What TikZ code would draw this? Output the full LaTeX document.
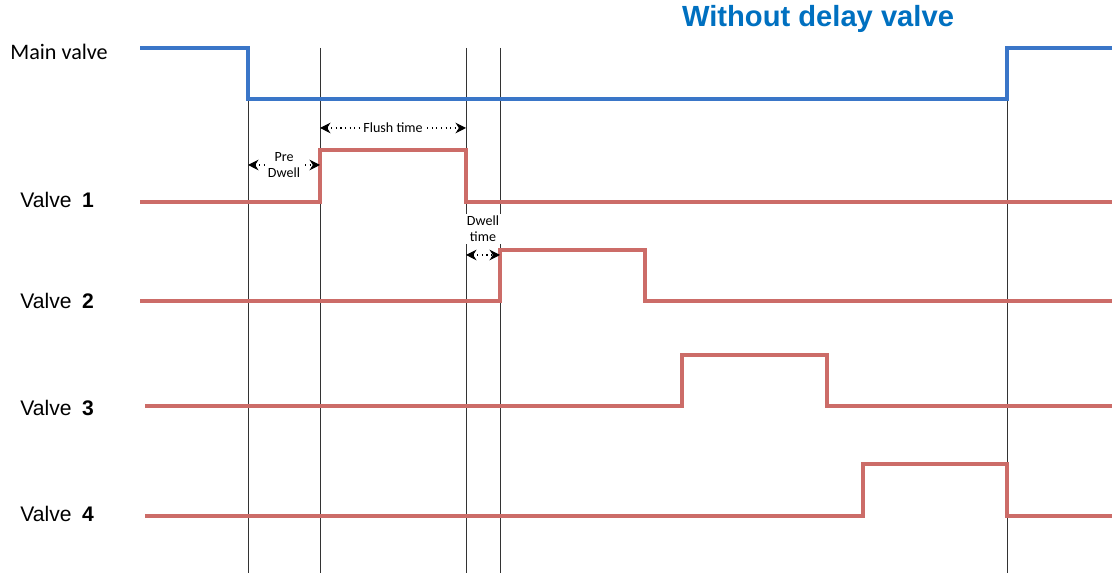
\documentclass[tikz,border=0pt]{standalone}
\usepackage{fontspec}
\setmainfont{Liberation Sans}
\newfontfamily\calfont{Carlito}
\usetikzlibrary{arrows.meta}
\definecolor{mainblue}{RGB}{58,118,200}
\definecolor{titleblue}{RGB}{0,112,192}
\definecolor{valvered}{RGB}{204,108,104}
\tikzset{
  mainline/.style={draw=mainblue, line width=1.8pt},
  valveline/.style={draw=valvered, line width=2.1pt},
  marker/.style={draw=black!80, line width=.35pt},
  span/.style={dotted, line width=.6pt, {Stealth[length=6pt,width=6pt]}-{Stealth[length=6pt,width=6pt]}},
  spantext/.style={font=\calfont\fontsize{8}{9}\selectfont, fill=white, inner sep=1pt, align=center},
  rowlabel/.style={font=\fontsize{12}{14}\selectfont, anchor=west, inner sep=0pt}
}
\begin{document}
\begin{tikzpicture}[x=0.02cm, y=-0.02cm]
\useasboundingbox (0,0) rectangle (1112,573);
% marker lines
\foreach \m/\x in {a/248, b/320, c/466, d/500, e/1007} {
  \coordinate (\m) at (\x,48);
  \draw[marker] (\m) -- (\x,573);
}
% title and labels
\node[font=\bfseries\fontsize{16.6}{18}\selectfont, text=titleblue] (title) at (818,19) {Without delay valve};
\node[font=\calfont\fontsize{12.6}{14}\selectfont, anchor=west, inner sep=0pt] (mainlbl) at (10,52) {Main valve};
\node[rowlabel] (lbl1) at (20,200) {Valve\enspace\textbf{1}};
\node[rowlabel] (lbl2) at (20,301) {Valve\enspace\textbf{2}};
\node[rowlabel] (lbl3) at (20,408) {Valve\enspace\textbf{3}};
\node[rowlabel] (lbl4) at (20,514) {Valve\enspace\textbf{4}};
% main valve
\draw[mainline] (140,48) -- (248,48) -- (248,99) -- (1007,99) -- (1007,48) -- (1112,48);
% valves
\draw[valveline] (140,202) -- (320,202) -- (320,150) -- (466,150) -- (466,202) -- (1112,202);
\draw[valveline] (140,301) -- (500,301) -- (500,250) -- (645,250) -- (645,301) -- (1112,301);
\draw[valveline] (145,406) -- (682,406) -- (682,355) -- (827,355) -- (827,406) -- (1112,406);
\draw[valveline] (145,516) -- (863,516) -- (863,464) -- (1007,464) -- (1007,516) -- (1112,516);
% time spans
\draw[span] (248,165) -- node[spantext] (pre) {Pre\\Dwell} (320,165);
\draw[span] (320,128) -- node[spantext] (flush) {Flush time} (466,128);
\draw[span] (466,255) -- (500,255);
\node[spantext] (dwell) at (483,229) {Dwell\\time};
\end{tikzpicture}
\end{document}
